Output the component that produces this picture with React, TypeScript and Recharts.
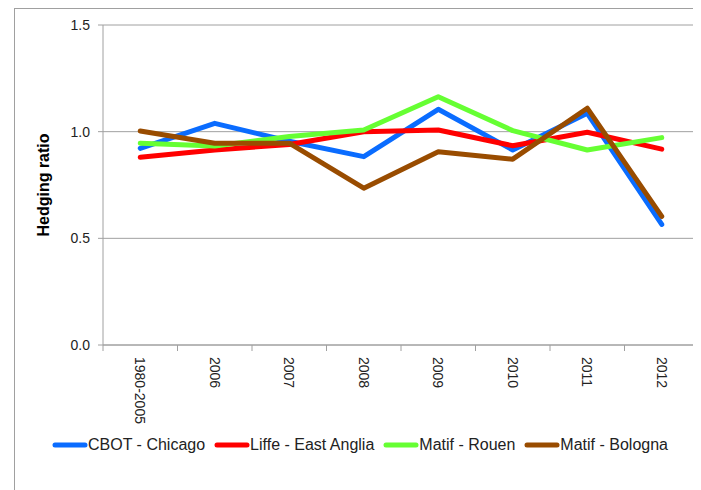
import React from 'react';
import { LineChart, Line, XAxis, YAxis, CartesianGrid, Legend, Label } from 'recharts';

const categories = ['1980-2005', '2006', '2007', '2008', '2009', '2010', '2011', '2012'];
const cbotChicago = [0.922, 1.039, 0.955, 0.883, 1.105, 0.914, 1.086, 0.565];
const liffeEastAnglia = [0.88, 0.914, 0.94, 1.0, 1.008, 0.934, 0.997, 0.918];
const matifRouen = [0.946, 0.933, 0.977, 1.008, 1.164, 1.005, 0.914, 0.972];
const matifBologna = [1.003, 0.946, 0.946, 0.735, 0.906, 0.871, 1.11, 0.603];
const yTicks = [0, 0.5, 1.0, 1.5];

const seriesNames = ['CBOT - Chicago', 'Liffe - East Anglia', 'Matif - Rouen', 'Matif - Bologna'];
const seriesColors = ['#0a6cff', '#ff0000', '#66ff33', '#994c00'];

const data = categories.map((c, i) => ({
  name: c,
  cbot: cbotChicago[i],
  liffe: liffeEastAnglia[i],
  rouen: matifRouen[i],
  bologna: matifBologna[i],
}));

const FONT = '"Liberation Sans", Arial, Helvetica, sans-serif';
const AXIS_GRAY = '#a0a0a0';

const XTick = (props: any) => {
  const { x, y, payload, index, visibleTicksCount, width } = props;
  const half = width / visibleTicksCount / 2;
  const ty = y + 12;
  return (
    <g>
      <line x1={x - half} y1={y} x2={x - half} y2={y + 6} stroke={AXIS_GRAY} strokeWidth={1} />
      {index === visibleTicksCount - 1 && (
        <line x1={x + half} y1={y} x2={x + half} y2={y + 6} stroke={AXIS_GRAY} strokeWidth={1} />
      )}
      <text
        x={x}
        y={ty}
        dy="0.36em"
        transform={`rotate(90, ${x}, ${ty})`}
        textAnchor="start"
        fontSize={14}
        fontFamily={FONT}
        fill="#222"
      >
        {payload.value}
      </text>
    </g>
  );
};

const YLabel = (props: any) => {
  const vb = props.viewBox || { x: 0, y: 17, width: 95, height: 320 };
  const cx = 35;
  const cy = vb.y + vb.height / 2;
  return (
    <text
      x={cx}
      y={cy}
      transform={`rotate(-90, ${cx}, ${cy})`}
      textAnchor="middle"
      dominantBaseline="central"
      fontSize={16}
      fontWeight="bold"
      fontFamily={FONT}
      fill="#000"
    >
      Hedging ratio
    </text>
  );
};

const LegendContent = () => {
  return (
    <div style={{ display: 'flex', alignItems: 'center', height: 18, whiteSpace: 'nowrap', fontFamily: FONT, fontSize: 16, color: '#222' }}>
      {seriesNames.map((n, i) => (
        <div key={n} style={{ display: 'flex', alignItems: 'center', marginRight: 9 }}>
          <svg width={36} height={10} style={{ display: 'block' }}>
            <line x1={3} y1={5} x2={33} y2={5} stroke={seriesColors[i]} strokeWidth={5} strokeLinecap="round" />
          </svg>
          <span>{n}</span>
        </div>
      ))}
    </div>
  );
};

export default function App() {
  return (
    <div style={{ position: 'relative', width: 693, height: 482, overflow: 'hidden' }}>
      <div
        style={{
          position: 'absolute',
          left: 6,
          top: 0,
          width: 720,
          height: 520,
          borderLeft: `1px solid ${AXIS_GRAY}`,
          borderTop: `1px solid ${AXIS_GRAY}`,
          boxSizing: 'border-box',
        }}
      />
      <div style={{ position: 'absolute', left: 0, top: 0 }}>
        <LineChart width={693} height={482} data={data} margin={{ top: 17, right: 2, left: 0, bottom: 65 }}>
          <CartesianGrid vertical={false} stroke={AXIS_GRAY} strokeWidth={1} />
          <XAxis
            dataKey="name"
            scale="band"
            height={80}
            axisLine={{ stroke: AXIS_GRAY }}
            tickLine={false}
            tickSize={0}
            tickMargin={0}
            interval={0}
            tick={<XTick />}
          />
          <YAxis
            width={95}
            domain={[0, 1.5]}
            ticks={yTicks}
            tickFormatter={(v: number) => v.toFixed(1)}
            axisLine={{ stroke: AXIS_GRAY }}
            tickLine={{ stroke: AXIS_GRAY }}
            tickSize={5}
            tickMargin={8}
            tick={{ fontSize: 14, fontFamily: FONT, fill: '#222' }}
          >
            <Label content={<YLabel />} />
          </YAxis>
          <Legend
            layout="horizontal"
            verticalAlign="middle"
            align="center"
            wrapperStyle={{ left: 44, top: 428, width: 'auto', height: 18 }}
            content={<LegendContent />}
          />
          <Line type="linear" dataKey="cbot" name={seriesNames[0]} stroke={seriesColors[0]} strokeWidth={5} dot={false} activeDot={false} strokeLinecap="round" strokeLinejoin="round" isAnimationActive={false} />
          <Line type="linear" dataKey="liffe" name={seriesNames[1]} stroke={seriesColors[1]} strokeWidth={5} dot={false} activeDot={false} strokeLinecap="round" strokeLinejoin="round" isAnimationActive={false} />
          <Line type="linear" dataKey="rouen" name={seriesNames[2]} stroke={seriesColors[2]} strokeWidth={5} dot={false} activeDot={false} strokeLinecap="round" strokeLinejoin="round" isAnimationActive={false} />
          <Line type="linear" dataKey="bologna" name={seriesNames[3]} stroke={seriesColors[3]} strokeWidth={5} dot={false} activeDot={false} strokeLinecap="round" strokeLinejoin="round" isAnimationActive={false} />
        </LineChart>
      </div>
    </div>
  );
}
